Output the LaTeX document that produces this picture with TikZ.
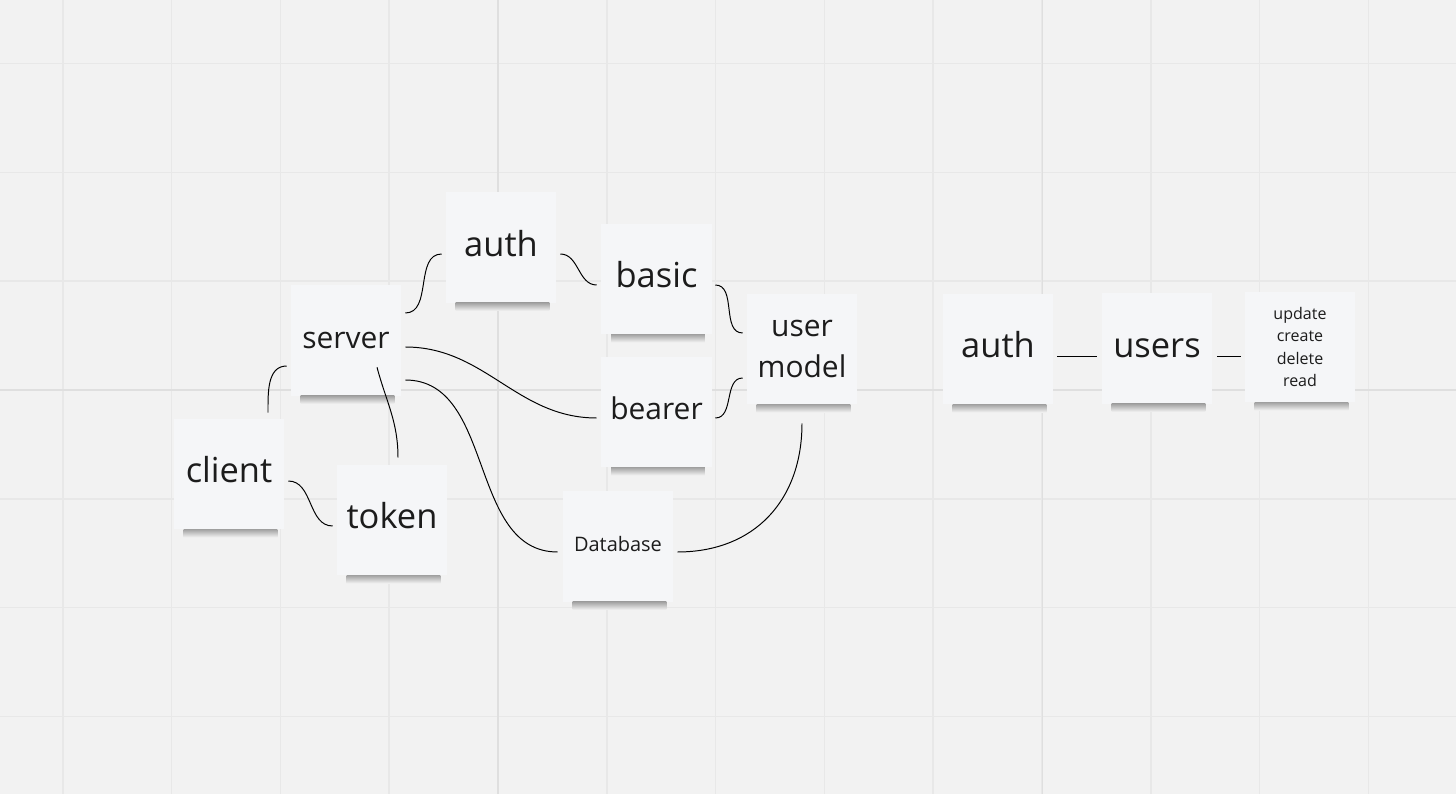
\documentclass[tikz,border=0pt]{standalone}
\usepackage{fontspec}
\setmainfont{Open Sans}
\usetikzlibrary{positioning,calc}

\definecolor{board}{HTML}{F2F2F2}
\definecolor{gridminor}{HTML}{E8E8E8}
\definecolor{gridmajor}{HTML}{DFDFDF}
\definecolor{notefill}{HTML}{F5F6F8}
\definecolor{noteshade}{HTML}{A2A2A2}
\definecolor{ink}{HTML}{1C1C1C}

\begin{document}
\begin{tikzpicture}[x=0.025cm, y=0.025cm,
    note/.style={rectangle, fill=notefill, minimum width=2.75cm, minimum height=2.75cm, inner sep=0pt, align=center, text=ink},
    big/.style={font=\fontsize{24.5}{29}\selectfont, text height=18.6pt, text depth=6pt},
    mid/.style={font=\fontsize{21.3}{29}\selectfont, text height=16.2pt, text depth=5pt},
    small/.style={font=\fontsize{14.2}{17}\selectfont, text depth=3pt},
    tiny/.style={font=\fontsize{11.4}{16}\selectfont},
    link/.style={draw=black, line width=0.7pt}
]

% Board
\useasboundingbox (0,0) rectangle (1456,-794);
\fill[board] (0,0) rectangle (1456,-794);
\foreach \i in {0,...,12}
    \draw[gridminor, line width=1.2pt] ({62.8+108.8*\i},0) -- ({62.8+108.8*\i},-794);
\foreach \j in {0,...,6}
    \draw[gridminor, line width=1.2pt] (0,{-63.6-108.8*\j}) -- (1456,{-63.6-108.8*\j});
\draw[gridmajor, line width=1.2pt] (498,0) -- (498,-794);
\draw[gridmajor, line width=1.2pt] (1042.4,0) -- (1042.4,-794);
\draw[gridmajor, line width=1.2pt] (0,-390) -- (1456,-390);

% Sticky notes
\node[note, big] (auth) at (501,-247.5) {auth};
\node[note, mid] (server) at (346,-340.5) {server};
\node[note, big] (client) at (229,-474) {client};
\node[note, big] (token) at (392,-520) {token};
\node[note, big] (basic) at (656.5,-279) {basic};
\node[note, mid] (bearer) at (656.5,-412) {bearer};
\node[note, font=\fontsize{21.3}{29}\selectfont] (usermodel) at (802,-349) {user\\model};
\node[note, small] (database) at (618,-546.5) {Database};

\node[note, big] (auth2) at (998,-349) {auth};
\node[note, big] (users) at (1157,-348.5) {users};
\node[note, tiny] (ops) at (1300,-347) {update\\create\\delete\\read};

% Shadows under the notes
\foreach \n in {auth,server,client,token,basic,bearer,usermodel,database,auth2,users,ops}
    \shade[top color=noteshade, bottom color=board] ($(\n.south west)+(10,0)$) rectangle ($(\n.south east)+(-7,-8)$);

% Links
\draw[link] ($(server.east)+(4,27.5)$) to[out=0, in=180] ($(auth.west)+(-4,-6.5)$);
\draw[link] ($(auth.east)+(4,-6.5)$) to[out=0, in=180] ($(basic.west)+(-4.5,-6)$);
\draw[link] ($(basic.east)+(3.5,-6)$) to[out=0, in=180] ($(usermodel.west)+(-4,16)$);
\draw[link] ($(bearer.east)+(3.5,-6)$) to[out=0, in=180] ($(usermodel.west)+(-4,-29)$);
\draw[link] ($(server.east)+(4,-6.5)$) to[out=0, in=180] ($(bearer.west)+(-4.5,-6)$);
\draw[link] ($(server.east)+(4,-39.5)$) to[out=0, in=180] ($(database.west)+(-5,-5.5)$);
\draw[link] ($(usermodel.south)+(0,-19)$) to[out=-90, in=0, looseness=1.1] ($(database.east)+(4,-5.5)$);
\draw[link] ($(server.west)+(-4,-25.5)$) to[out=180, in=90] ($(client.north)+(39,6)$);
\draw[link] ($(server.south)+(31,28.5)$) to[out=-75, in=90] ($(token.north)+(6,7)$);
\draw[link] ($(client.east)+(4,-7)$) to[out=0, in=180] ($(token.west)+(-4,-6)$);

\draw[link] ($(auth2.east)+(4,-7.5)$) -- ($(users.west)+(-5,-8)$);
\draw[link] ($(users.east)+(5,-8)$) -- ($(ops.west)+(-4,-9.5)$);

\end{tikzpicture}
\end{document}
